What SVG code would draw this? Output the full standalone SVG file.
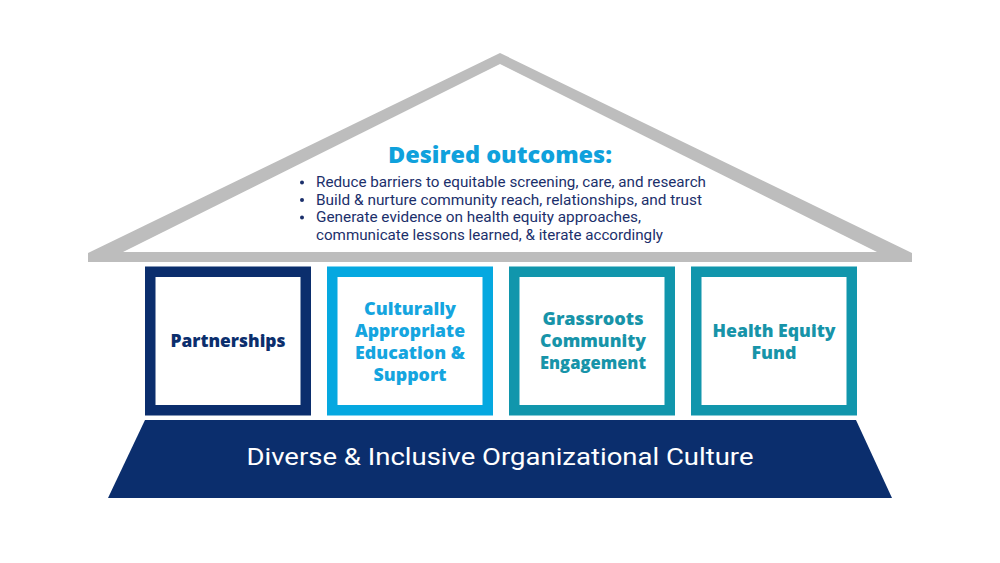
<svg xmlns="http://www.w3.org/2000/svg" width="1000" height="563" viewBox="0 0 1000 563">
  <style>
    .bg { fill: #ffffff; }
    .roof { fill: #bdbdbd; }
    .roof-in { fill: #ffffff; }
    .pillar { fill: #ffffff; stroke-width: 10.5; }
    .navy { stroke: #0b2e6d; }
    .sky { stroke: #05a8e0; }
    .teal { stroke: #1196ac; }
    .plabel { font-family: "Open Sans", "Liberation Sans", sans-serif; font-weight: 800; font-size: 17px; text-anchor: middle; }
    .title { font-family: "Open Sans", "Liberation Sans", sans-serif; font-weight: 800; font-size: 23px; fill: #0fa1dc; text-anchor: middle; }
    .bullet { font-family: Roboto, "Liberation Sans", sans-serif; font-size: 14px; fill: #1b2f6b; }
    .dot { fill: #1b2f6b; }
    .base { fill: #0b2e6d; }
    .basetext { font-family: Roboto, "Liberation Sans", sans-serif; font-size: 24px; fill: #ffffff; text-anchor: middle; }
  </style>
  <rect class="bg" x="0" y="0" width="1000" height="563"/>

  <g id="roof">
    <polygon class="roof" points="88,262 88,253 500,53 912,253 912,262"/>
    <polygon class="roof-in" points="123,252 500,64 877,252"/>
    <text class="title" x="500" y="163" textLength="224" lengthAdjust="spacingAndGlyphs">Desired outcomes:</text>
    <g class="bullet">
      <circle class="dot" cx="302" cy="182.5" r="2"/>
      <circle class="dot" cx="302" cy="200" r="2"/>
      <circle class="dot" cx="302" cy="217.5" r="2"/>
      <text x="316" y="187" textLength="390" lengthAdjust="spacingAndGlyphs">Reduce barriers to equitable screening, care, and research</text>
      <text x="316" y="204.5" textLength="386" lengthAdjust="spacingAndGlyphs">Build &amp; nurture community reach, relationships, and trust</text>
      <text x="316" y="222" textLength="325" lengthAdjust="spacingAndGlyphs">Generate evidence on health equity approaches,</text>
      <text x="316" y="239.5" textLength="347" lengthAdjust="spacingAndGlyphs">communicate lessons learned, &amp; iterate accordingly</text>
    </g>
  </g>

  <g id="pillar-partnerships">
    <rect class="pillar navy" x="150.25" y="271.75" width="155.5" height="138.5"/>
    <text class="plabel" x="228" y="347" fill="#0b2e6d" textLength="115" lengthAdjust="spacingAndGlyphs">Partnerships</text>
  </g>

  <g id="pillar-education">
    <rect class="pillar sky" x="332.25" y="271.75" width="155.5" height="138.5"/>
    <g class="plabel" fill="#15a5df">
      <text x="410" y="315" textLength="92" lengthAdjust="spacingAndGlyphs">Culturally</text>
      <text x="410" y="337" textLength="110" lengthAdjust="spacingAndGlyphs">Appropriate</text>
      <text x="410" y="359" textLength="110" lengthAdjust="spacingAndGlyphs">Education &amp;</text>
      <text x="410" y="381" textLength="73" lengthAdjust="spacingAndGlyphs">Support</text>
    </g>
  </g>

  <g id="pillar-grassroots">
    <rect class="pillar teal" x="514.25" y="271.75" width="155.5" height="138.5"/>
    <g class="plabel" fill="#1794a9">
      <text x="593" y="325" textLength="101" lengthAdjust="spacingAndGlyphs">Grassroots</text>
      <text x="593" y="347" textLength="106" lengthAdjust="spacingAndGlyphs">Community</text>
      <text x="593" y="369" textLength="106" lengthAdjust="spacingAndGlyphs">Engagement</text>
    </g>
  </g>

  <g id="pillar-fund">
    <rect class="pillar teal" x="696.25" y="271.75" width="155.5" height="138.5"/>
    <g class="plabel" fill="#1794a9">
      <text x="774" y="337" textLength="123" lengthAdjust="spacingAndGlyphs">Health Equity</text>
      <text x="774" y="359" textLength="45" lengthAdjust="spacingAndGlyphs">Fund</text>
    </g>
  </g>

  <g id="foundation">
    <polygon class="base" points="145,420 856,420 892,498 108,498"/>
    <text class="basetext" x="500" y="465" textLength="507" lengthAdjust="spacingAndGlyphs">Diverse &amp; Inclusive Organizational Culture</text>
  </g>

  <g id="connectors"></g>
</svg>
